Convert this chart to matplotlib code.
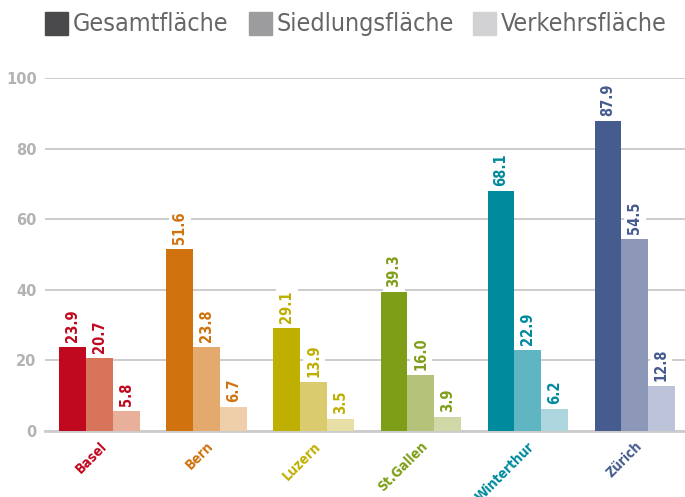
import matplotlib
matplotlib.use("Agg")
import matplotlib.pyplot as plt
from matplotlib.patches import Rectangle
import numpy as np

cities = ["Basel", "Bern", "Luzern", "St.Gallen", "Winterthur", "Zürich"]
series = ["Gesamtfläche", "Siedlungsfläche", "Verkehrsfläche"]
gesamt = [23.9, 51.6, 29.1, 39.3, 68.1, 87.9]
siedlung = [20.7, 23.8, 13.9, 16.0, 22.9, 54.5]
verkehr = [5.8, 6.7, 3.5, 3.9, 6.2, 12.8]
city_colors = [
    ["#C0081E", "#D87459", "#E8B09A"],
    ["#D0730F", "#E3A96D", "#EFCFA9"],
    ["#BFAF00", "#D9CB6E", "#E8DFA6"],
    ["#7F9E18", "#B5C37A", "#D0D8A8"],
    ["#008A9E", "#5FB5C2", "#ADD6DE"],
    ["#465B8E", "#8D97B8", "#BDC3D9"],
]
legend_colors = ["#4A4A4C", "#9C9C9E", "#D2D2D4"]

fig = plt.figure(figsize=(6.85, 4.97), dpi=100)
ax = fig.add_axes([45/685, 66/497, 640/685, 353/497])

w = 0.25
x = np.arange(len(cities))
vals = [gesamt, siedlung, verkehr]
for j, v in enumerate(vals):
    for i in range(len(cities)):
        xi = x[i] + (j - 1) * w
        ax.bar(xi, v[i], width=w, color=city_colors[i][j], zorder=3, linewidth=0)
        ax.text(xi, v[i] + 1.4, f"{v[i]:.1f}", rotation=90, ha="center", va="bottom",
                color=city_colors[i][0], fontsize=10.5, fontweight="bold",
                fontstretch="condensed",
                bbox=dict(facecolor="white", edgecolor="none", pad=2.5), zorder=4)

ax.set_xlim(-0.51, 5.47)
ax.set_ylim(0, 100)
ax.set_yticks([0, 20, 40, 60, 80, 100])
ax.yaxis.grid(True, color="#C8C8C8", linewidth=1.3, zorder=0)
ax.set_axisbelow(True)
for s in ["top", "right", "left"]:
    ax.spines[s].set_visible(False)
ax.spines["bottom"].set_color("#CCCCCC")
ax.spines["bottom"].set_linewidth(2)
ax.tick_params(axis="y", length=0, labelcolor="#B3B3B3", labelsize=10.5, pad=6)
for t in ax.get_yticklabels():
    t.set_fontweight("bold")
ax.set_xticks(x)
ax.set_xticklabels(cities, rotation=45, ha="right", rotation_mode="anchor",
                   fontsize=10, fontweight="bold", fontstretch="condensed")
ax.tick_params(axis="x", length=0, pad=6)
for t, c in zip(ax.get_xticklabels(), city_colors):
    t.set_color(c[0])

# legend
lx = [45, 249, 473]
for k, (name, col) in enumerate(zip(series, legend_colors)):
    fig.patches.append(Rectangle((lx[k]/685, (497-35)/497), 23/685, 23/497,
                                 transform=fig.transFigure, color=col))
    fig.text((lx[k]+28)/685, (497-24)/497, name, fontsize=18, color="#666666",
             va="center", ha="left", fontstretch="condensed")

fig.savefig("out.png", dpi=100)
